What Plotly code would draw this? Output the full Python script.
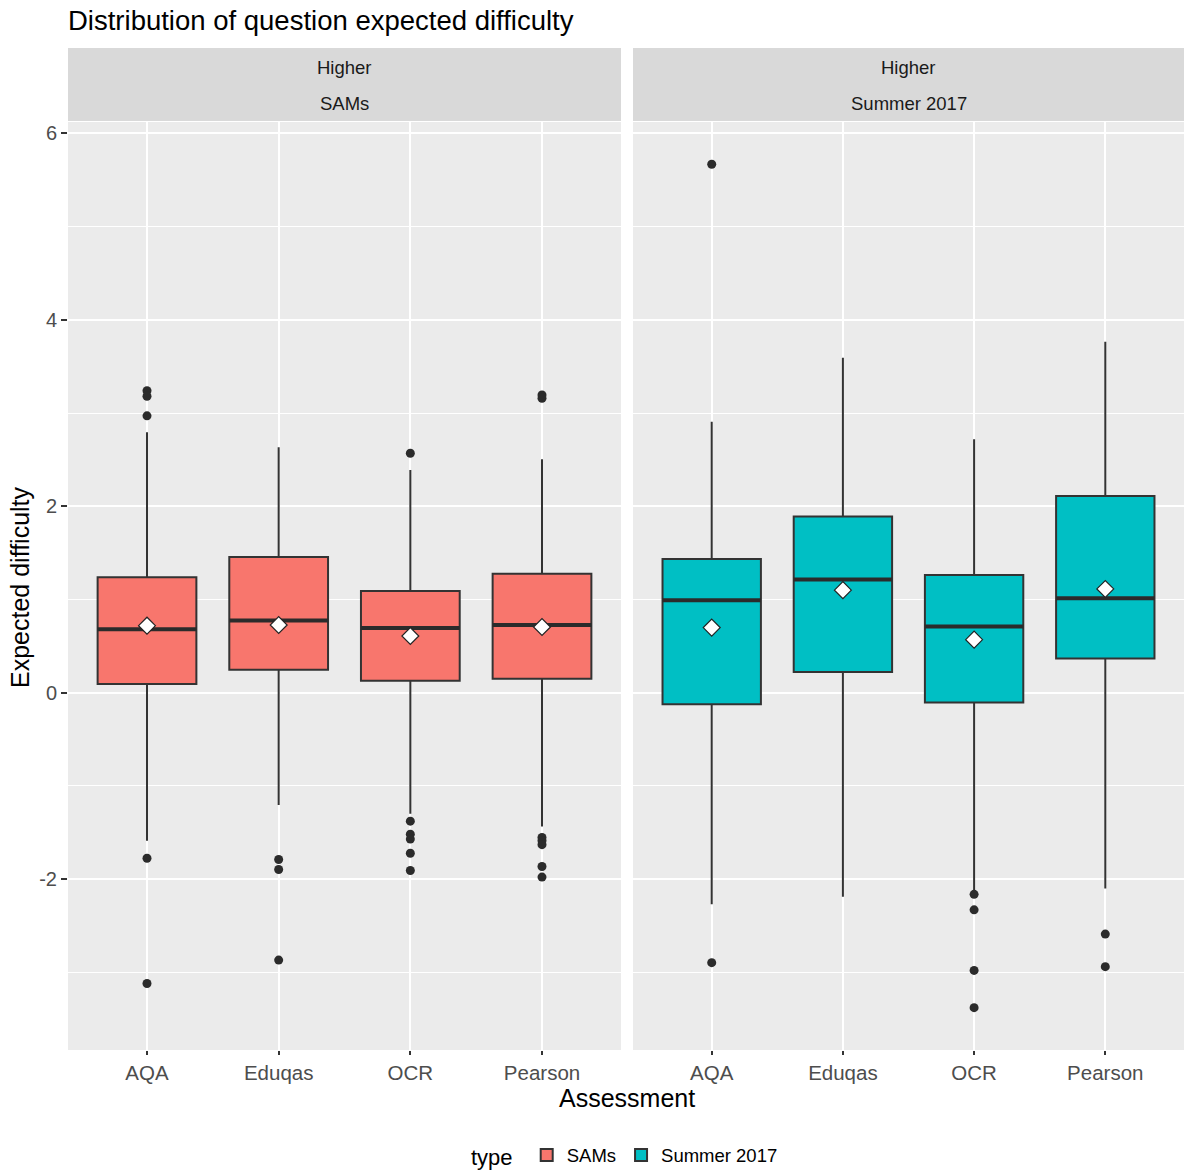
import plotly.graph_objects as go

# ---------------- data ----------------
categories = ["AQA", "Eduqas", "OCR", "Pearson"]

sams_q1 = [0.093, 0.247, 0.129, 0.150]
sams_median = [0.680, 0.773, 0.694, 0.726]
sams_q3 = [1.238, 1.456, 1.091, 1.277]
sams_lower = [-1.589, -1.206, -1.298, -1.436]
sams_upper = [2.794, 2.633, 2.390, 2.504]
sams_mean = [0.719, 0.726, 0.608, 0.705]
sams_out_cat = ["AQA"] * 5 + ["Eduqas"] * 3 + ["OCR"] * 6 + ["Pearson"] * 7
sams_out_val = [3.24, 3.18, 2.97, -1.777, -3.12,
                -1.79, -1.897, -2.869,
                2.569, -1.379, -1.518, -1.571, -1.723, -1.908,
                3.195, 3.159, -1.553, -1.589, -1.631, -1.865, -1.979]

summer_q1 = [-0.125, 0.222, -0.105, 0.367]
summer_median = [0.992, 1.214, 0.710, 1.012]
summer_q3 = [1.435, 1.891, 1.262, 2.109]
summer_lower = [-2.27, -2.19, -2.12, -2.10]
summer_upper = [2.907, 3.593, 2.718, 3.766]
summer_mean = [0.698, 1.100, 0.569, 1.113]
summer_out_cat = ["AQA", "AQA", "OCR", "OCR", "OCR", "OCR", "Pearson", "Pearson"]
summer_out_val = [5.67, -2.897, -2.164, -2.33, -2.98, -3.38, -2.59, -2.94]

y_major = [-2, 0, 2, 4, 6]
y_major_labels = ["-2", "0", "2", "4", "6"]
y_minor = [-3, -1, 1, 3, 5]

panels = [
    dict(name="SAMs", strip=["Higher", "SAMs"], color="#F8766D",
         q1=sams_q1, med=sams_median, q3=sams_q3, lo=sams_lower, hi=sams_upper,
         mean=sams_mean, oc=sams_out_cat, ov=sams_out_val),
    dict(name="Summer 2017", strip=["Higher", "Summer 2017"], color="#00BFC4",
         q1=summer_q1, med=summer_median, q3=summer_q3, lo=summer_lower, hi=summer_upper,
         mean=summer_mean, oc=summer_out_cat, ov=summer_out_val),
]

# ---------------- figure ----------------
W, H = 1184, 1173
ML, MR, MT, MB = 68, 0, 122, 123
PW = W - ML - MR
PH = H - MT - MB
BOXW = 0.75
LINE = "#333333"
FONT = "Liberation Sans, Arial, sans-serif"

fig = go.Figure()
idx = {c: i for i, c in enumerate(categories)}
xpos = list(range(len(categories)))

for k, p in enumerate(panels):
    xa = "x" if k == 0 else "x2"
    ya = "y" if k == 0 else "y2"
    fig.add_trace(go.Box(
        x=xpos, q1=p["q1"], median=p["med"], q3=p["q3"],
        lowerfence=p["lo"], upperfence=p["hi"],
        width=BOXW, whiskerwidth=0, boxpoints=False,
        fillcolor=p["color"], line=dict(color=LINE, width=2),
        name=p["name"], showlegend=True, hoverinfo="skip",
        xaxis=xa, yaxis=ya,
    ))
    # thicker median lines
    mx, my = [], []
    for i, m in enumerate(p["med"]):
        mx += [i - BOXW / 2, i + BOXW / 2, None]
        my += [m, m, None]
    fig.add_trace(go.Scatter(x=mx, y=my, mode="lines",
                             line=dict(color="#2b2b2b", width=4),
                             showlegend=False, hoverinfo="skip", xaxis=xa, yaxis=ya))
    # outliers
    fig.add_trace(go.Scatter(x=[idx[c] for c in p["oc"]], y=p["ov"], mode="markers",
                             marker=dict(color="#2b2b2b", size=9, symbol="circle"),
                             showlegend=False, hoverinfo="skip", xaxis=xa, yaxis=ya))
    # means
    fig.add_trace(go.Scatter(x=xpos, y=p["mean"], mode="markers",
                             marker=dict(color="white", size=13, symbol="diamond",
                                         line=dict(color="#222222", width=1.2)),
                             showlegend=False, hoverinfo="skip", xaxis=xa, yaxis=ya))

gap = 12
d1 = [0, 553 / PW]
d2 = [(553 + gap) / PW, 1]

yr = [-3.834, 6.123]

xcommon = dict(range=[-0.6, 3.6], tickvals=xpos, ticktext=categories,
               showgrid=True, gridcolor="white", gridwidth=2, zeroline=False,
               ticks="outside", ticklen=4, tickwidth=1.5, tickcolor=LINE,
               tickfont=dict(family=FONT, size=20.5, color="#4D4D4D"),
               showline=False, fixedrange=True)
ycommon = dict(range=yr, tickvals=y_major, ticktext=y_major_labels,
               showgrid=True, gridcolor="white", gridwidth=2, zeroline=False,
               minor=dict(tickvals=y_minor, showgrid=True, gridcolor="white",
                          gridwidth=1, ticks=""),
               showline=False, fixedrange=True)

fig.update_layout(
    width=W, height=H,
    margin=dict(l=ML, r=MR, t=MT, b=MB, autoexpand=False),
    paper_bgcolor="white", plot_bgcolor="#EBEBEB",
    font=dict(family=FONT, color="black"),
    xaxis=dict(domain=d1, anchor="y", **xcommon),
    xaxis2=dict(domain=d2, anchor="y2", **xcommon),
    yaxis=dict(anchor="x", ticks="outside", ticklen=6, tickwidth=1.5, tickcolor=LINE,
               tickfont=dict(family=FONT, size=20, color="#4D4D4D"), **ycommon),
    yaxis2=dict(anchor="x2", matches="y", showticklabels=False, ticks="", **ycommon),
    title=dict(text="Distribution of question expected difficulty",
               x=ML / W, xanchor="left", xref="container",
               y=1 - 20 / H, yanchor="middle", yref="container",
               font=dict(family=FONT, size=27.5, color="black")),
    legend=dict(orientation="h", x=0.5, xanchor="center", y=(MT + PH - 1156) / PH,
                yanchor="middle", valign="middle",
                title=dict(text="type ", side="left",
                           font=dict(family=FONT, size=22, color="black")),
                font=dict(family=FONT, size=18.5, color="black"),
                itemsizing="constant", bgcolor="rgba(0,0,0,0)"),
    showlegend=True,
)

# strips
s_y0 = (MT + PH - 121) / PH
s_y1 = (MT + PH - 48) / PH
for k, p in enumerate(panels):
    xr = "x domain" if k == 0 else "x2 domain"
    fig.add_shape(type="rect", xref=xr, yref="paper", x0=0, x1=1, y0=s_y0, y1=s_y1,
                  fillcolor="#D9D9D9", line=dict(width=0), layer="below")
    for txt, ypix in zip(p["strip"], [67, 103]):
        fig.add_annotation(text=txt, xref=xr, yref="paper", x=0.5,
                           y=(MT + PH - ypix) / PH, showarrow=False,
                           xanchor="center", yanchor="middle",
                           font=dict(family=FONT, size=18.5, color="#1A1A1A"))

# axis titles
fig.add_annotation(text="Assessment", xref="paper", yref="paper",
                   x=(627 - ML) / PW, y=(MT + PH - 1098) / PH, showarrow=False,
                   xanchor="center", yanchor="middle",
                   font=dict(family=FONT, size=25, color="black"))
fig.add_annotation(text="Expected difficulty", xref="paper", yref="paper",
                   x=(20 - ML) / PW, y=(MT + PH - 587) / PH, showarrow=False,
                   textangle=-90, xanchor="center", yanchor="middle",
                   font=dict(family=FONT, size=25, color="black"))

fig.write_html("out.html", config={"displayModeBar": False},
               post_script="document.body.style.margin='0';document.body.style.overflow='hidden';")
